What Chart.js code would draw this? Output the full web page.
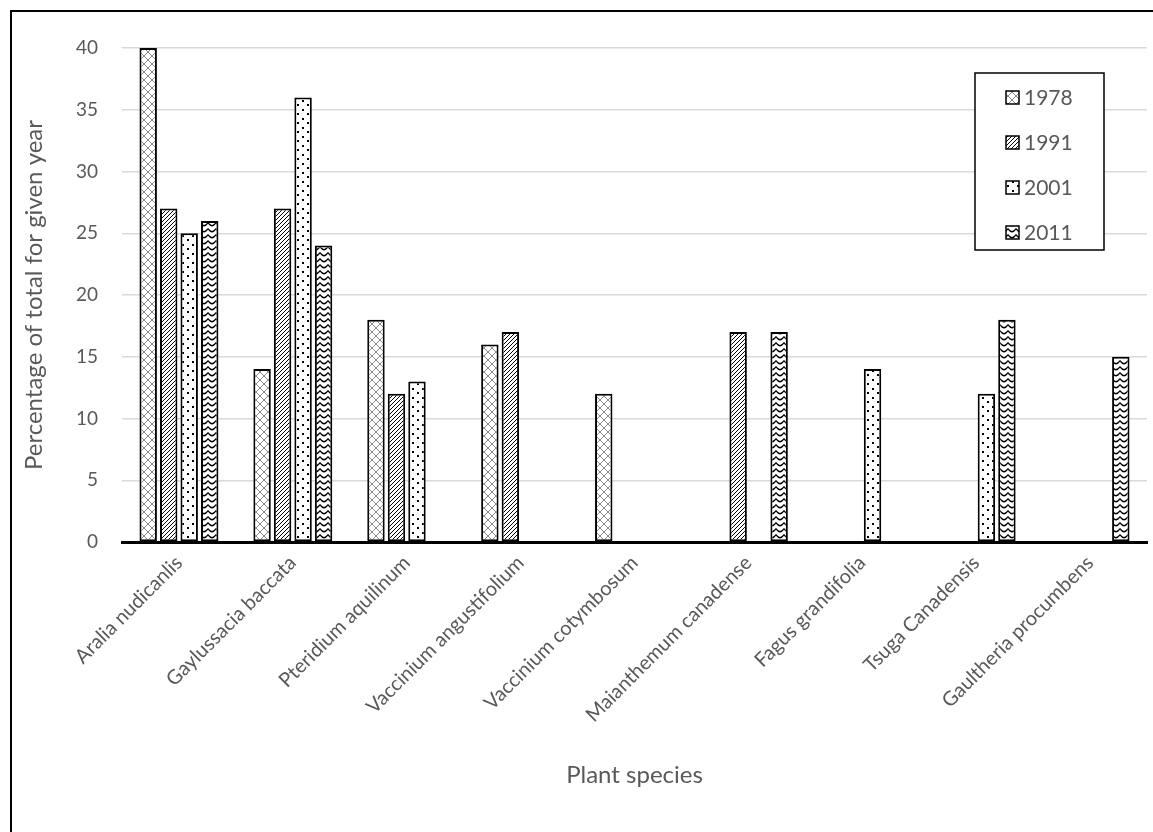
<!DOCTYPE html>
<html lang="en">
<head>
    <meta charset="UTF-8">
    <title>Plant species percentages</title>
    <script src="https://cdn.jsdelivr.net/npm/chart.js"></script>
    <style>
        html, body { margin: 0; padding: 0; background: #fff; overflow: hidden; }
        .frame {
            position: absolute; left: 10px; top: 10px;
            width: 1300px; height: 1000px;
            border-left: 2px solid #000; border-top: 2px solid #000;
        }
        #plantChart { position: absolute; left: 0; top: 0; }
    </style>
</head>
<body>
    <div class="frame"></div>
    <canvas id="plantChart" width="1153" height="832"></canvas>

    <script>
        const species = ['Aralia nudicanlis', 'Gaylussacia baccata', 'Pteridium aquilinum',
            'Vaccinium angustifolium', 'Vaccinium cotymbosum', 'Maianthemum canadense',
            'Fagus grandifolia', 'Tsuga Canadensis', 'Gaultheria procumbens'];
        const years = ['1978', '1991', '2001', '2011'];
        const v1978 = [40, 14, 18, 16, 12, null, null, null, null];
        const v1991 = [27, 27, 12, 17, null, 17, null, null, null];
        const v2001 = [25, 36, 13, null, null, null, 14, 12, null];
        const v2011 = [26, 24, null, null, null, 17, null, 18, 15];
        const yTicks = [0, 5, 10, 15, 20, 25, 30, 35, 40];

        const FONT = 'Lato, "Open Sans", sans-serif';
        const GREY = '#595959';

        // small tiles for the hatch fills
        function tile(w, h, draw) {
            const c = document.createElement('canvas');
            c.width = w; c.height = h;
            const g = c.getContext('2d');
            g.fillStyle = '#fff';
            g.fillRect(0, 0, w, h);
            draw(g);
            return c;
        }
        const ctx = document.getElementById('plantChart').getContext('2d');

        const lattice = ctx.createPattern(tile(8, 8, g => {
            g.strokeStyle = '#8a8a8a'; g.lineWidth = 1;
            g.beginPath();
            g.moveTo(0, 0); g.lineTo(8, 8);
            g.moveTo(8, 0); g.lineTo(0, 8);
            g.stroke();
        }), 'repeat');
        const diagonal = ctx.createPattern(tile(4, 4, g => {
            g.fillStyle = '#000';
            for (let i = 0; i < 4; i++) g.fillRect(i, 3 - i, 1, 1);
        }), 'repeat');
        const dots = ctx.createPattern(tile(10, 9, g => {
            g.fillStyle = '#000';
            g.fillRect(2, 1, 2, 2);
            g.fillRect(7, 5, 2, 2);
        }), 'repeat');
        const waves = ctx.createPattern(tile(8, 6, g => {
            g.strokeStyle = '#000'; g.lineWidth = 1.3;
            g.beginPath();
            g.moveTo(0, 0.5); g.quadraticCurveTo(4, 7, 8, 0.5);
            g.stroke();
        }), 'repeat');

        const fills = [lattice, diagonal, dots, waves];
        const series = [v1978, v1991, v2001, v2011];

        // legend box inside the plot, like the original
        const boxLegend = {
            id: 'boxLegend',
            afterDraw(chart) {
                const c = chart.ctx;
                const x0 = 975, y0 = 73, w = 129, h = 177;
                c.save();
                c.fillStyle = '#fff';
                c.fillRect(x0, y0, w, h);
                c.strokeStyle = '#000'; c.lineWidth = 1.5;
                c.strokeRect(x0, y0, w, h);
                c.font = '21px ' + FONT;
                c.textBaseline = 'middle';
                chart.data.datasets.forEach((ds, i) => {
                    const cy = 97 + i * 45;
                    c.fillStyle = ds.backgroundColor;
                    c.fillRect(1006, cy - 6, 13, 13);
                    c.strokeStyle = '#000'; c.lineWidth = 1.5;
                    c.strokeRect(1006, cy - 6, 13, 13);
                    c.fillStyle = GREY;
                    c.fillText(ds.label, 1024, cy + 1);
                });
                c.restore();
            }
        };

        const plantChart = new Chart(ctx, {
            type: 'bar',
            data: {
                labels: species,
                datasets: years.map((y, i) => ({
                    label: y,
                    data: series[i],
                    backgroundColor: fills[i],
                    borderColor: '#000',
                    borderWidth: 2,
                    borderSkipped: false,
                    barPercentage: 0.85,
                    categoryPercentage: 0.72
                }))
            },
            options: {
                responsive: false,
                animation: false,
                layout: { padding: { left: 0, right: 6, top: 48, bottom: 0 } },
                plugins: {
                    legend: { display: false },
                    tooltip: { enabled: false }
                },
                scales: {
                    x: {
                        grid: { display: false },
                        border: { color: '#000', width: 3 },
                        ticks: {
                            autoSkip: false, maxRotation: 45, minRotation: 45,
                            color: GREY, font: { family: FONT, size: 20 }, padding: 1
                        },
                        title: {
                            display: true, text: 'Plant species', color: GREY,
                            font: { family: FONT, size: 24 }, padding: { top: 0, bottom: 42 }
                        },
                        afterFit(scale) { scale.height = 290; }
                    },
                    y: {
                        min: 0, max: 40,
                        afterBuildTicks(scale) { scale.ticks = yTicks.map(v => ({ value: v })); },
                        grid: { color: '#d9d9d9', lineWidth: 1.5, drawTicks: false },
                        border: { display: false },
                        ticks: { color: GREY, font: { family: FONT, size: 19 }, padding: 24 },
                        title: {
                            display: true, text: 'Percentage of total for given year', color: GREY,
                            font: { family: FONT, size: 24 }, padding: { top: 20, bottom: 0 }
                        },
                        afterFit(scale) { scale.width = 122; }
                    }
                }
            },
            plugins: [boxLegend]
        });
    </script>
</body>
</html>
